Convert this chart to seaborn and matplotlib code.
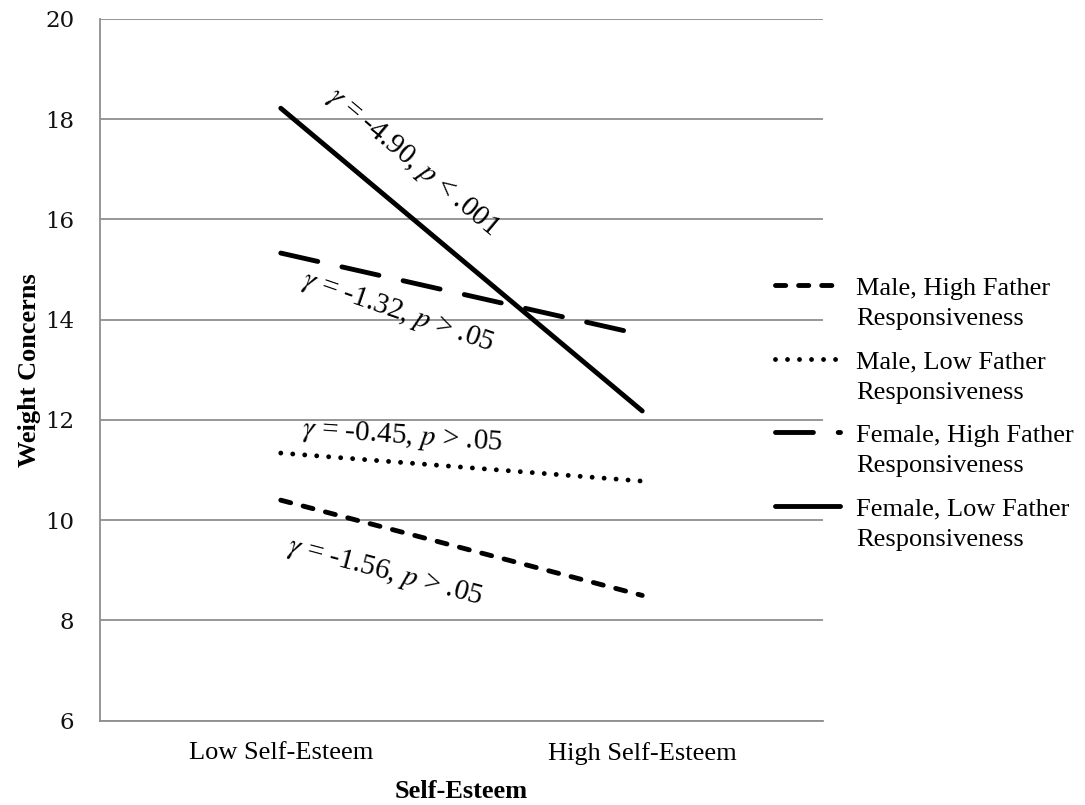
import numpy as np
import pandas as pd
import matplotlib
matplotlib.use("Agg")
import matplotlib.pyplot as plt
import seaborn as sns
from matplotlib.lines import Line2D
from matplotlib.legend_handler import HandlerLine2D

# ---------------- data ----------------
categories = ["Low Self-Esteem", "High Self-Esteem"]
groups = [
    "Male, High Father Responsiveness",
    "Male, Low Father Responsiveness",
    "Female, High Father Responsiveness",
    "Female, Low Father Responsiveness",
]
legend_labels = [
    "Male, High Father\nResponsiveness",
    "Male, Low Father\nResponsiveness",
    "Female, High Father\nResponsiveness",
    "Female, Low Father\nResponsiveness",
]
male_high = [10.40, 8.50]
male_low = [11.34, 10.78]
female_high = [15.33, 13.70]
female_low = [18.22, 12.18]
y_ticks = [6, 8, 10, 12, 14, 16, 18, 20]
annot_texts = [
    r"$\gamma$ = -4.90, $p$ < .001",
    r"$\gamma$ = -1.32, $p$ > .05",
    r"$\gamma$ = -0.45, $p$ > .05",
    r"$\gamma$ = -1.56, $p$ > .05",
]

# ---------------- style ----------------
sns.set_theme(style="white")
plt.rcParams["font.family"] = ["Liberation Serif", "DejaVu Serif"]
plt.rcParams["mathtext.fontset"] = "stix"
plt.rcParams["lines.dash_capstyle"] = "round"
plt.rcParams["lines.solid_capstyle"] = "round"
plt.rcParams["text.color"] = "black"
plt.rcParams["axes.labelcolor"] = "black"

GRID = "#8f8f8f"
LW = 3.5

rows = []
for g, vals in zip(groups, [male_high, male_low, female_high, female_low]):
    for i, v in enumerate(vals):
        rows.append({"pos": i, "category": categories[i], "value": v, "group": g})
df = pd.DataFrame(rows)

dash_map = {
    groups[0]: (2.1, 2.65),
    groups[1]: (0.001, 2.47),
    groups[2]: (7.8, 5.1),
    groups[3]: "",
}

fig = plt.figure(figsize=(10.85, 8.05), dpi=100)
ax = fig.add_axes([0.0922, 0.1047, 0.6663, 0.8717])

sns.lineplot(
    data=df, x="pos", y="value", hue="group", style="group",
    hue_order=groups, style_order=groups,
    palette={g: "black" for g in groups}, dashes=dash_map,
    linewidth=LW, sort=False, ax=ax, legend=True,
)

# axes
ax.set_xlim(-0.5, 1.5)
ax.set_ylim(6, 20)
ax.set_yticks(y_ticks)
ax.set_yticklabels([str(t) for t in y_ticks], family="DejaVu Serif", fontsize=16.5, color="#111111")
ax.set_xticks([0, 1])
ax.set_xticklabels(categories, fontsize=19, color="black")
ax.set_xticks([-0.5, 0.5, 1.5], minor=True)
ax.tick_params(axis="x", which="major", length=0, pad=15)
ax.tick_params(axis="x", which="minor", length=6, width=1.3, color=GRID, direction="out")
ax.tick_params(axis="y", which="major", length=6.5, width=1.3, color=GRID, direction="out", pad=12)
ax.yaxis.grid(True, color=GRID, linewidth=1.3)
ax.set_axisbelow(True)
for s in ["top", "right"]:
    ax.spines[s].set_visible(False)
for s in ["left", "bottom"]:
    ax.spines[s].set_color(GRID)
    ax.spines[s].set_linewidth(1.3)

ax.set_xlabel("Self-Esteem", fontsize=19, fontweight="bold", color="black")
ax.set_ylabel("Weight Concerns", fontsize=19, fontweight="bold", color="black")
ax.xaxis.set_label_coords(0.5, -0.084)
ax.yaxis.set_label_coords(-0.082, 0.5)

# annotations
annot_pos = [(0.365, 17.15, -40), (0.324, 14.15, -19), (0.335, 11.66, -4), (0.288, 8.97, -15)]
for txt, (x, y, r) in zip(annot_texts, annot_pos):
    ax.text(x, y, txt, fontsize=21, rotation=r, rotation_mode="anchor",
            ha="center", va="center", color="black")

# legend
class UpHandler(HandlerLine2D):
    def create_artists(self, legend, orig_handle, xdescent, ydescent, width,
                       height, fontsize, trans):
        return super().create_artists(legend, orig_handle, xdescent,
                                      ydescent - 1.38 * fontsize, width, height,
                                      fontsize, trans)

handles, labels = ax.get_legend_handles_labels()
ax.get_legend().remove()
ordered = [handles[labels.index(g)] for g in groups]
for h in ordered:
    h.set_linewidth(LW)
    h.set_color("black")
leg = fig.legend(
    ordered, legend_labels, loc="upper left", bbox_to_anchor=(0.714, 0.6545),
    frameon=False, fontsize=19, handlelength=2.46, handletextpad=0.64,
    labelspacing=0.8, borderpad=0, borderaxespad=0,
    handler_map={Line2D: UpHandler()},
)
for t in leg.get_texts():
    t.set_linespacing(1.49)
    t.set_color("black")

fig.savefig("out.png", dpi=100)
